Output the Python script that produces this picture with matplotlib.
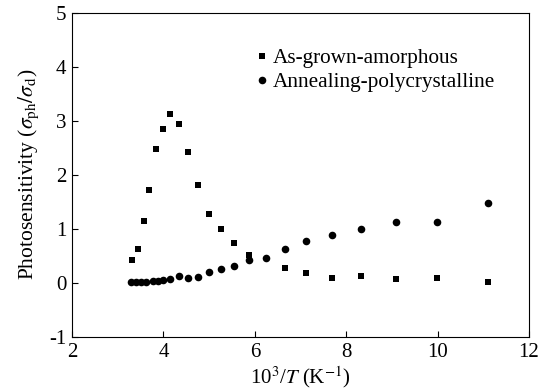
import numpy as np
import matplotlib
matplotlib.use('Agg')
import matplotlib.pyplot as plt

# Data
x_amorph = [3.32, 3.44, 3.57, 3.69, 3.84, 3.99, 4.15, 4.34, 4.53, 4.75, 5.00,
            5.25, 5.54, 5.87, 6.66, 7.13, 7.69, 8.33, 9.08, 9.99, 11.10]
y_amorph = [0.43, 0.63, 1.15, 1.71, 2.48, 2.85, 3.12, 2.93, 2.42, 1.81, 1.27,
            0.99, 0.74, 0.51, 0.28, 0.19, 0.10, 0.12, 0.08, 0.09, 0.02]

x_poly = [3.30, 3.40, 3.50, 3.62, 3.76, 3.87, 3.98, 4.15, 4.34, 4.53, 4.75,
          5.00, 5.25, 5.54, 5.87, 6.24, 6.66, 7.13, 7.69, 8.33, 9.08, 9.99, 11.10]
y_poly = [0.01, 0.01, 0.01, 0.02, 0.03, 0.04, 0.06, 0.08, 0.12, 0.09, 0.11,
          0.20, 0.25, 0.31, 0.43, 0.46, 0.62, 0.77, 0.89, 0.99, 1.13, 1.13, 1.47]

xticks = [2, 4, 6, 8, 10, 12]
yticks = [-1, 0, 1, 2, 3, 4, 5]

plt.rcParams['font.family'] = ['Liberation Serif', 'DejaVu Serif']
plt.rcParams['mathtext.fontset'] = 'stix'
plt.rcParams['axes.unicode_minus'] = False

fig = plt.figure(figsize=(5.42, 3.91), dpi=100)
ax = fig.add_axes([0.133, 0.138, 0.843, 0.830])

ax.scatter(x_amorph, y_amorph, marker='s', s=22, c='k', linewidths=0,
           label='As-grown-amorphous')
ax.scatter(x_poly, y_poly, marker='o', s=30, c='k', linewidths=0,
           label='Annealing-polycrystalline')

ax.set_xlim(2, 12)
ax.set_ylim(-1, 5)
ax.set_xticks(xticks)
ax.set_yticks(yticks)
ax.tick_params(direction='in', length=4, width=0.8, labelsize=15, pad=4)
for sp in ax.spines.values():
    sp.set_linewidth(0.8)

ax.set_xlabel(r'10$^{3}$/$T$ (K$^{-1}$)', fontsize=15, labelpad=2)
ax.set_ylabel(r'Photosensitivity ($\sigma_{\rm ph}/\sigma_{\rm d}$)', fontsize=15.5,
              labelpad=6)

ax.legend(loc='upper left', bbox_to_anchor=(0.393, 0.89), frameon=False,
          fontsize=15.3, handletextpad=0.0, handlelength=1.0, borderaxespad=0,
          borderpad=0, labelspacing=0.2, scatteryoffsets=[0.5])

plt.savefig('out.png', dpi=100)
